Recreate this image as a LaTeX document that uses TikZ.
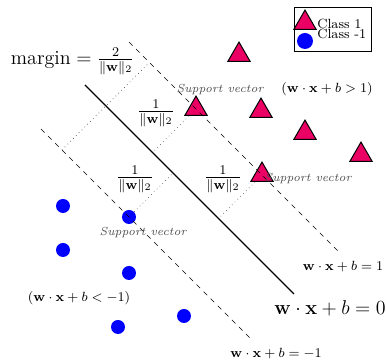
\documentclass[tikz,border=0pt]{standalone}
\usepackage{amsmath, amssymb, bm}
\usepackage{tikz}
\usepackage{xcolor}
\usetikzlibrary{calc, shapes.geometric}
\definecolor{mymagenta}{RGB}{235, 0, 100}
\definecolor{myblue}{RGB}{0, 0, 255}

\begin{document}
\begin{tikzpicture}[x=0.6pt,y=0.6pt,
    classpos/.style={regular polygon,regular polygon sides=3,draw,semithick,
      fill=mymagenta,minimum size=15.5pt,inner sep=0pt},
    classneg/.style={circle,fill=myblue,minimum size=8.4pt,inner sep=0pt},
    svlabel/.style={font=\scriptsize\itshape,text=black!70},
    eqlabel/.style={font=\footnotesize}]
  \useasboundingbox (0,0) rectangle (386,361);
  % hyperplane and margins
  \coordinate (hA) at (85,276);
  \coordinate (hB) at (294,67);
  \coordinate (uA) at (129,319);
  \coordinate (uB) at (338,110);
  \coordinate (lA) at (41,232);
  \coordinate (lB) at (250,23);
  % class 1
  \node[classpos] (p1) at (239,306) {};
  \node[classpos] (sv1) at (196,252) {};
  \node[classpos] (p2) at (261,250) {};
  \node[classpos] (p3) at (305,228) {};
  \node[classpos] (p4) at (361,206) {};
  \node[classpos] (sv2) at (262,186) {};
  % class -1
  \node[classneg] (n1) at (63,155) {};
  \node[classneg] (sv3) at (129,144) {};
  \node[classneg] (n2) at (63,111) {};
  \node[classneg] (n3) at (129,88) {};
  \node[classneg] (n4) at (184,45) {};
  \node[classneg] (n5) at (118,34) {};
  % distances
  \draw[dotted,black!70] (sv1) -- ($(hA)!(sv1)!(hB)$);
  \draw[dotted,black!70] (sv2) -- ($(hA)!(sv2)!(hB)$);
  \draw[dotted,black!70] (sv3) -- ($(hA)!(sv3)!(hB)$);
  \coordinate (m1) at ($(lA)!0.1!(lB)$);
  \draw[dotted,black!70] (m1) -- ($(uA)!(m1)!(uB)$);
  \draw[thick] (hA) -- (hB);
  \draw[dashed] (uA) -- (uB);
  \draw[dashed] (lA) -- (lB);
  % labels
  \node[anchor=west,font=\large] (margin) at (5,300)
    {$\text{margin} = \frac{2}{\|\mathbf{w}\|_2}$};
  \node[font=\large] (f1) at (156,248) {$\frac{1}{\|\mathbf{w}\|_2}$};
  \node[font=\large] (f2) at (135,182) {$\frac{1}{\|\mathbf{w}\|_2}$};
  \node[font=\large] (f3) at (223,182) {$\frac{1}{\|\mathbf{w}\|_2}$};
  \node[svlabel] (s1) at (220,271) {Support vector};
  \node[svlabel] (s2) at (308,182) {Support vector};
  \node[svlabel] (s3) at (143,128) {Support vector};
  \node[eqlabel] (gt) at (327,272) {$(\mathbf{w}\cdot\mathbf{x}+b>1)$};
  \node[eqlabel] (lt) at (79,63) {$(\mathbf{w}\cdot\mathbf{x}+b<-1)$};
  \node[eqlabel] (e1) at (343,94) {$\mathbf{w}\cdot\mathbf{x}+b=1$};
  \node[font=\large] (e0) at (330,53) {$\mathbf{w}\cdot\mathbf{x}+b=0$};
  \node[eqlabel] (em1) at (276,7) {$\mathbf{w}\cdot\mathbf{x}+b=-1$};
  % legend
  \node[draw,semithick,minimum width=46.8pt,minimum height=26.4pt,inner sep=0pt]
    (legend) at (333,331) {};
  \node[classpos] (lp) at (305,338) {};
  \node[classneg,minimum size=9.6pt] (ln) at (305,320) {};
  \node[anchor=base west,font=\footnotesize,inner sep=0pt] (lpt) at (317,332) {Class 1};
  \node[anchor=base west,font=\footnotesize,inner sep=0pt] (lnt) at (317,322) {Class -1};
\end{tikzpicture}
\end{document}
